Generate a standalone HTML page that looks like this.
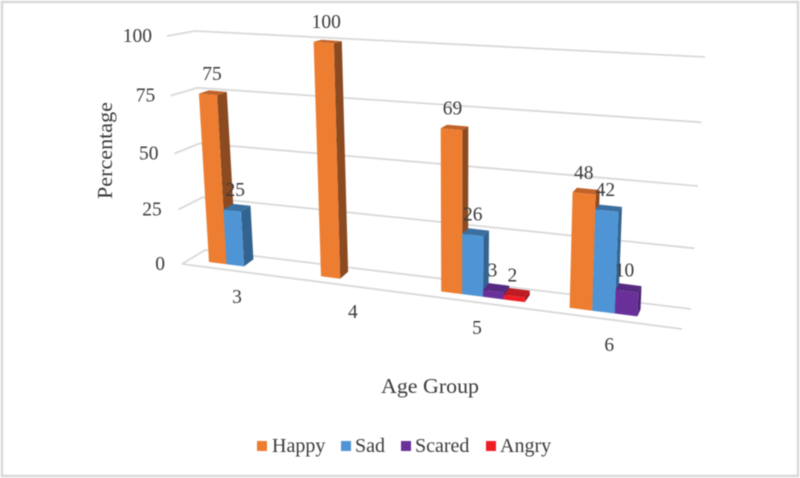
<!DOCTYPE html>
<html lang="en">
<head>
<meta charset="utf-8">
<title>Percentage by Age Group</title>
<style>
  html, body { margin: 0; padding: 0; background: #fff; }
  #chart { display: block; width: 800px; height: 478px; filter: blur(0.4px); }
  text { font-family: "Liberation Serif", serif; fill: #3a3a3a; }
</style>
</head>
<body>
<svg id="chart" xmlns="http://www.w3.org/2000/svg" width="800" height="478" viewBox="0 0 800 478">
  <rect x="2" y="2" width="796" height="474" fill="#fff" stroke="#d9d9d9" stroke-width="2.5"/>
  <g id="grid"></g>
  <g id="y-ticks"></g>
  <g id="x-ticks"></g>
  <g id="bars"></g>
  <g id="labels"></g>
  <text transform="translate(112,199) rotate(-90)" font-size="21" textLength="97" lengthAdjust="spacingAndGlyphs">Percentage</text>
  <text x="381" y="393" font-size="21" textLength="98" lengthAdjust="spacingAndGlyphs">Age Group</text>
  <g id="legend"></g>
</svg>
<script>
const categories = ["3", "4", "5", "6"];
const seriesNames = ["Happy", "Sad", "Scared", "Angry"];
const happy = [75, 100, 69, 48];
const sad = [25, 0, 26, 42];
const scared = [0, 0, 3, 10];
const angry = [0, 0, 2, 0];
const yTicks = [0, 25, 50, 75, 100];

const seriesValues = [happy, sad, scared, angry];
const frontColors = ["#ED7D31", "#4F94D4", "#6A309A", "#F01C24"];
const topColors = ["#C0622A", "#3A6F9F", "#552A80", "#BE1C22"];
const sideColors = ["#8B4A20", "#336390", "#4A2272", "#A01A1E"];
const legendSquareX = [257, 341, 401, 486];
const legendTextX = [272, 355, 415, 500];

const NS = "http://www.w3.org/2000/svg";

/* Wall and floor axis functions */
const frontLeftX = v => 182 - 0.15 * v;
const frontLeftY = v => 264 - 2.14 * v - 0.0014 * v * v;
const backLeftX = v => 205 - 0.1 * v;
const backLeftY = v => 250 - 2.08 * v - 0.0011 * v * v;
const backRightX = v => 691 + 0.14 * v;
const backRightY = v => 309 - 2.4 * v - 0.0012 * v * v;

/* Bar axis functions */
const categoryX = i => 209 + 107.9 * i + 4.1 * i * i;
const barWidth = i => 17.5 + 1.7 * i;
const baseY = x => 262 + (x - 209) * 0.127;
const lift = (x, v) => v * (2.14 + 0.0014 * v) * (1 + (x - 209) * 0.00025);
const lean = (x, v) => (x - 455) * 0.00055 * v;
const depthX = x => 10 - (x - 209) * 0.016;
const depthY = v => -(7 - 0.05 * v);

function frontPoint(x, v) {
  return [x + lean(x, v), baseY(x) - lift(x, v)];
}
function backPoint(x, v) {
  const p = frontPoint(x, v);
  return [p[0] + depthX(x), p[1] + depthY(v)];
}
function pointString(points) {
  return points.map(p => p[0].toFixed(1) + "," + p[1].toFixed(1)).join(" ");
}

const gridGroup = document.getElementById("grid");
const yTickGroup = document.getElementById("y-ticks");
const xTickGroup = document.getElementById("x-ticks");
const barGroup = document.getElementById("bars");
const labelGroup = document.getElementById("labels");
const legendGroup = document.getElementById("legend");

yTicks.forEach(v => {
  const line = document.createElementNS(NS, "polyline");
  
  
  line.setAttribute("points", pointString([
    [frontLeftX(v), frontLeftY(v)],
    [backLeftX(v), backLeftY(v)],
    [backRightX(v), backRightY(v)]
  ]));
  line.setAttribute("fill", "none");
  line.setAttribute("stroke", "#d9d9d9");
  line.setAttribute("stroke-width", "1.8");
  gridGroup.appendChild(line);

  const label = document.createElementNS(NS, "text");
  
  
  label.setAttribute("x", 165 - 0.13 * v);
  label.setAttribute("y", frontLeftY(v) + 6);
  label.setAttribute("text-anchor", "end");
  label.setAttribute("font-size", "19.5");
  label.textContent = v;
  yTickGroup.appendChild(label);
});

const floorFront = document.createElementNS(NS, "line");


floorFront.setAttribute("x1", "182");
floorFront.setAttribute("y1", "264");
floorFront.setAttribute("x2", "682");
floorFront.setAttribute("y2", "329");
floorFront.setAttribute("stroke", "#d9d9d9");
floorFront.setAttribute("stroke-width", "1.8");
gridGroup.appendChild(floorFront);

categories.forEach((cat, i) => {
  const w = barWidth(i);

  const tick = document.createElementNS(NS, "text");
  
  
  tick.setAttribute("x", categoryX(i) + 28 + 3.9 * i);
  tick.setAttribute("y", baseY(categoryX(i)) + 41 + 0.7 * i);
  tick.setAttribute("text-anchor", "middle");
  tick.setAttribute("font-size", "19.5");
  tick.textContent = cat;
  xTickGroup.appendChild(tick);

  seriesValues.forEach((values, j) => {
    const v = values[i];
    if (!v) return;
    const x0 = categoryX(i) + j * w;
    const x1 = x0 + w;
    const name = seriesNames[j].toLowerCase() + "-" + cat;

    const side = document.createElementNS(NS, "polygon");
    
    
    side.setAttribute("points", pointString([frontPoint(x1, 0), frontPoint(x1, v), backPoint(x1, v), backPoint(x1, 0)]));
    side.setAttribute("fill", sideColors[j]);
    barGroup.appendChild(side);

    const top = document.createElementNS(NS, "polygon");
    
    
    top.setAttribute("points", pointString([frontPoint(x0, v), frontPoint(x1, v), backPoint(x1, v), backPoint(x0, v)]));
    top.setAttribute("fill", topColors[j]);
    barGroup.appendChild(top);

    const front = document.createElementNS(NS, "polygon");
    
    
    front.setAttribute("points", pointString([frontPoint(x0, 0), frontPoint(x1, 0), frontPoint(x1, v), frontPoint(x0, v)]));
    front.setAttribute("fill", frontColors[j]);
    barGroup.appendChild(front);

    const mid = frontPoint((x0 + x1) / 2, v);
    const valueLabel = document.createElementNS(NS, "text");
    
    
    valueLabel.setAttribute("x", mid[0] + 4 - 1.5 * i - j);
    valueLabel.setAttribute("y", mid[1] - 14.5);
    valueLabel.setAttribute("text-anchor", "middle");
    valueLabel.setAttribute("font-size", "19.5");
    valueLabel.textContent = v;
    labelGroup.appendChild(valueLabel);
  });
});

seriesNames.forEach((name, j) => {
  const square = document.createElementNS(NS, "rect");
  
  
  square.setAttribute("x", legendSquareX[j]);
  square.setAttribute("y", 441);
  square.setAttribute("width", 10);
  square.setAttribute("height", 10);
  square.setAttribute("fill", frontColors[j]);
  legendGroup.appendChild(square);

  const label = document.createElementNS(NS, "text");
  
  
  label.setAttribute("x", legendTextX[j]);
  label.setAttribute("y", 452);
  label.setAttribute("font-size", "20");
  label.textContent = name;
  legendGroup.appendChild(label);
});
</script>
</body>
</html>
